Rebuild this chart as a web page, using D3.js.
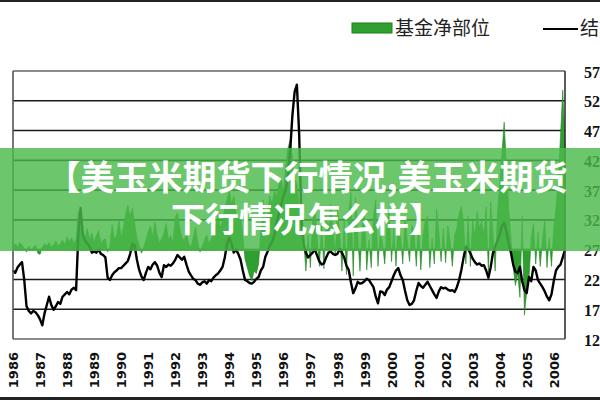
<!DOCTYPE html>
<html>
<head>
<meta charset="utf-8">
<script src="https://cdn.jsdelivr.net/npm/d3@7"></script>
<style>
  html, body { margin: 0; padding: 0; background: #fff; }
  svg { display: block; }
</style>
</head>
<body>
<svg id="chart" width="600" height="400"></svg>
<script>
// ---- data (monthly, starting Jan 1986) ----
const startYear = 1986;
const yearLabels = ["1986","1987","1988","1989","1990","1991","1992","1993","1994","1995","1996","1997","1998","1999","2000","2001","2002","2003","2004","2005","2006"];
const priceTicks = [125,175,225,275,325,375,425,475,525,575];
const legendLabels = ["基金净部位", "结算价"];
const titleLines = ["【美玉米期货下行情况,美玉米期货", "下行情况怎么样】"];

// settlement price (cents/bushel)
const price = [
 240,236,245,250,254,224,180,172,168,172,
 170,165,158,148,168,182,196,182,174,180,
 187,184,196,200,204,200,208,211,207,300,
 345,300,290,285,280,270,272,270,275,268,
 266,262,228,224,232,237,240,244,244,248,
 252,256,268,285,282,258,241,230,224,236,
 246,242,250,254,248,236,229,249,246,250,
 248,252,258,266,262,258,263,250,238,232,
 226,224,218,216,220,222,218,224,222,228,
 232,235,240,246,262,285,295,285,270,275,
 268,258,240,224,222,219,218,221,226,229,
 240,246,263,272,282,288,300,320,335,350,
 365,375,395,440,500,540,552,470,330,285,
 270,262,266,270,275,265,255,250,252,262,
 270,272,268,266,268,276,270,262,248,241,
 220,202,210,221,218,219,222,226,224,218,
 212,196,185,205,204,199,208,212,222,232,
 240,244,232,224,206,190,182,184,190,206,
 219,214,211,216,221,214,207,200,194,205,
 212,210,211,208,206,207,204,212,224,241,
 262,280,276,269,260,254,250,252,248,249,
 240,228,245,269,280,290,300,315,320,305,
 285,270,250,238,236,246,222,207,202,229,
 222,246,240,224,218,212,205,196,190,200,
 222,240,246,250,262,275
];

// fund net position (thousand contracts)
const fundNet = [
 3,5,2,6,4,1,-2,3,-1,2,
 4,-3,-4,2,5,3,6,2,4,7,
 3,5,8,4,11,6,10,5,9,32,
 18,15,10,18,8,14,6,12,16,5,
 8,9,-2,3,21,8,12,25,10,18,
 30,37,28,35,22,10,4,-3,2,8,
 15,20,10,23,12,6,9,14,22,8,
 12,6,27,31,18,10,8,14,5,2,
 10,19,6,-2,3,8,12,5,9,14,
 20,28,18,24,35,42,50,38,45,30,
 25,28,12,-8,-15,-22,-26,-18,-20,-12,
 16,42,25,30,45,38,50,44,55,60,
 48,70,85,92,78,60,55,38,20,8,
 -18,12,-15,25,35,10,-14,20,-16,28,
 15,38,20,-5,33,15,-18,25,-21,30,
 48,-22,44,12,-18,20,34,-17,8,-15,
 28,42,-14,15,5,-12,22,33,-10,18,
 -14,29,12,-12,28,8,-10,20,15,-14,
 23,-17,12,25,28,-15,10,-12,34,15,
 -10,18,-11,20,8,-14,12,18,30,36,
 22,-12,28,-14,25,10,32,18,24,12,
 36,-19,40,15,-18,30,55,80,107,70,
 35,10,-15,-30,-20,-40,28,-55,-35,-25,
 10,22,-12,15,-14,8,25,-15,10,-14,
 18,35,60,95,134,90
];

// ---- layout ----
const plot = {left: 13, right: 565, top: 71, bottom: 339};
const svg = d3.select("#chart");

const x = d3.scaleLinear()
  .domain([startYear, startYear + (price.length - 1) / 12])
  .range([plot.left, plot.right]);
const yPrice = d3.scaleLinear().domain([125, 575]).range([plot.bottom, plot.top]);
const yFund = d3.scaleLinear().domain([-75, 150]).range([plot.bottom, plot.top]);

const t = i => startYear + i / 12;

// frame lines of the picture
svg.append("rect").attr("x", 0).attr("y", 0).attr("width", 600).attr("height", 2).attr("fill", "#222");
svg.append("rect").attr("x", 0).attr("y", 397).attr("width", 600).attr("height", 3).attr("fill", "#222");

// horizontal grid lines
svg.append("g")
  .selectAll("line")
  .data(priceTicks)
  .join("line")
  .attr("x1", plot.left).attr("x2", plot.right)
  .attr("y1", d => yPrice(d)).attr("y2", d => yPrice(d))
  .attr("stroke", d => (d === 125 || d === 575) ? "#666" : "#1a1a1a")
  .attr("stroke-width", 1.6);

// green area (fund net position)
const area = d3.area()
  .x((d, i) => x(t(i)))
  .y0(yFund(0))
  .y1(d => yFund(d));
svg.append("path")
  .datum(fundNet)
  .attr("d", area)
  .attr("fill", "#2fa02f")
  .attr("stroke", "#1f7f1f")
  .attr("stroke-width", 0.6);

// price line
const line = d3.line()
  .x((d, i) => x(t(i)))
  .y(d => yPrice(d));
svg.append("path")
  .datum(price)
  .attr("d", line)
  .attr("fill", "none")
  .attr("stroke", "#000")
  .attr("stroke-width", 2.4)
  .attr("stroke-linejoin", "round");

// plot frame (left, right verticals)
svg.append("line").attr("x1", plot.left).attr("x2", plot.left).attr("y1", plot.top).attr("y2", plot.bottom)
  .attr("stroke", "#555").attr("stroke-width", 1.6);
svg.append("line").attr("x1", plot.right).attr("x2", plot.right).attr("y1", plot.top).attr("y2", plot.bottom)
  .attr("stroke", "#333").attr("stroke-width", 1.6);

// x axis (years, rotated)
const xAxis = d3.axisBottom(x)
  .tickValues(yearLabels.map(Number))
  .tickFormat(d => String(d))
  .tickSize(0);
const gx = svg.append("g").attr("transform", `translate(0,${plot.bottom})`).call(xAxis);
gx.select(".domain").remove();
gx.selectAll("text")
  .attr("transform", "rotate(-90)")
  .attr("x", -13).attr("y", 0).attr("dy", "0.35em")
  .attr("text-anchor", "end")
  .attr("font-family", "DejaVu Sans")
  .attr("font-weight", "bold")
  .attr("font-size", 13)
  .attr("fill", "#111");

// right axis (price labels, cut by the picture edge as in the source)
const yAxis = d3.axisRight(yPrice).tickValues(priceTicks).tickSize(0).tickFormat(d => String(d));
const gy = svg.append("g").attr("transform", `translate(${plot.right},0)`).call(yAxis);
gy.select(".domain").remove();
gy.selectAll("text")
  .attr("x", 19).attr("dy", "0.38em")
  .attr("font-family", "Liberation Serif")
  .attr("font-weight", "bold")
  .attr("font-size", 16)
  .attr("fill", "#111");

// legend
const lg = svg.append("g");
lg.append("rect").attr("x", 352).attr("y", 23).attr("width", 40).attr("height", 10)
  .attr("fill", "#2fa02f").attr("stroke", "#1f7f1f").attr("stroke-width", 1);
lg.append("text").attr("x", 395).attr("y", 28).attr("dy", "0.36em")
  .attr("font-family", "Noto Sans CJK SC").attr("font-size", 19).attr("fill", "#222")
  .text(legendLabels[0]);
lg.append("line").attr("x1", 543).attr("x2", 578).attr("y1", 29).attr("y2", 29)
  .attr("stroke", "#000").attr("stroke-width", 2);
lg.append("text").attr("x", 580).attr("y", 28).attr("dy", "0.36em")
  .attr("font-family", "Noto Sans CJK SC").attr("font-size", 19).attr("fill", "#222")
  .text(legendLabels[1]);

// title banner overlay
svg.append("rect").attr("x", 0).attr("y", 148).attr("width", 600).attr("height", 103)
  .attr("fill", "rgb(76,185,76)").attr("fill-opacity", 0.82);
svg.append("g").selectAll("text")
  .data(titleLines)
  .join("text")
  .attr("x", 307)
  .attr("y", (d, i) => 178 + i * 42)
  .attr("dy", "0.36em")
  .attr("text-anchor", "middle")
  .attr("font-family", "Noto Sans CJK SC")
  .attr("font-weight", 700)
  .attr("font-size", 34)
  .attr("fill", "#fff")
  .text(d => d);
</script>
</body>
</html>
